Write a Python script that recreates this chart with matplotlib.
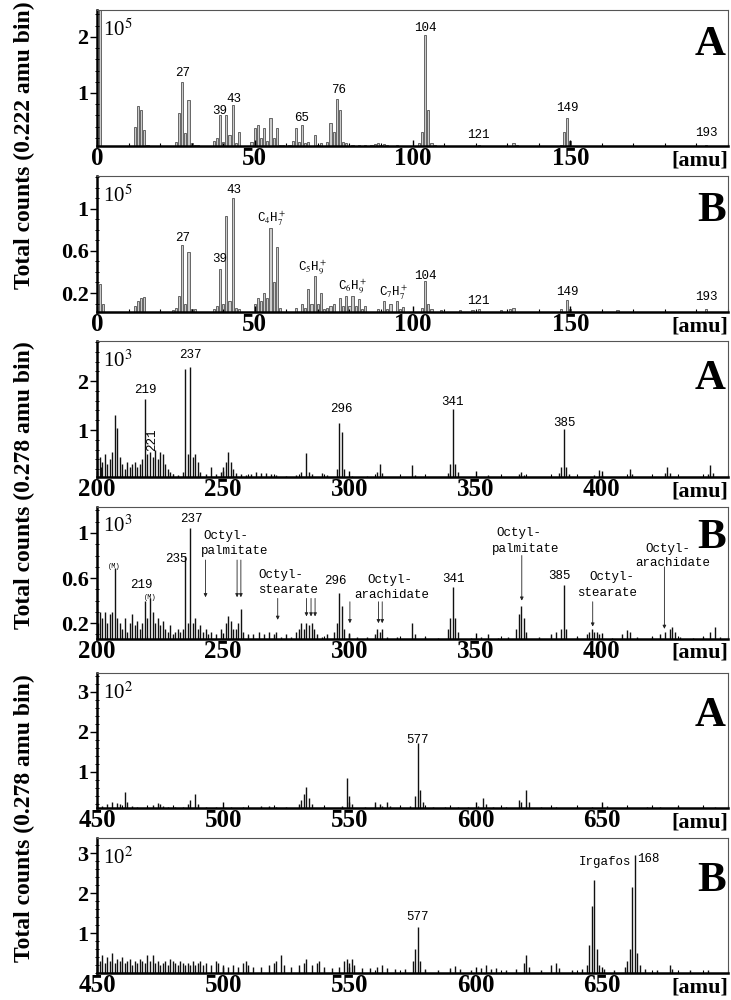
import matplotlib
matplotlib.use('Agg')
from matplotlib import pyplot as plt
from matplotlib.ticker import FixedLocator, MultipleLocator

plt.rcParams['font.family'] = ['Liberation Serif', 'DejaVu Serif']
plt.rcParams['mathtext.fontset'] = 'stix'

# ---- spectra (mass in amu, counts in units of the exponent shown in each panel) ----
# 0-200 amu, sample A (x 10^5)
low_a_mass = [1, 12, 13, 14, 15, 16, 19, 24, 25, 26, 27, 28, 29, 30, 31, 32, 36, 37, 38, 39,
              40, 41, 42, 43, 44, 45, 49, 50, 51, 52, 53, 54, 55, 56, 57, 58, 59, 61, 62, 63,
              64, 65, 66, 67, 69, 70, 71, 73, 74, 75, 76, 77, 78, 79, 81, 83, 85, 87, 88, 89,
              90, 91, 92, 95, 97, 102, 103, 104, 105, 106, 107, 115, 119, 121, 128, 132, 133,
              147, 148, 149, 150, 151, 165, 178, 193]
low_a_counts = [2.5, 0.4, 0.76, 0.7, 0.34, 0.08, 0.06, 0.06, 0.12, 0.64, 1.2, 0.28, 0.87, 0.1, 0.08, 0.07,
                0.06, 0.15, 0.2, 0.6, 0.12, 0.6, 0.25, 0.79, 0.1, 0.3, 0.12, 0.38, 0.43, 0.2, 0.37,
                0.15, 0.55, 0.2, 0.37, 0.08, 0.07, 0.08, 0.15, 0.37, 0.12, 0.43, 0.1, 0.12, 0.25,
                0.08, 0.1, 0.12, 0.46, 0.3, 0.9, 0.7, 0.12, 0.1, 0.08, 0.07, 0.07, 0.08, 0.09, 0.1,
                0.08, 0.09, 0.07, 0.07, 0.06, 0.1, 0.31, 2.04, 0.7, 0.1, 0.07, 0.06, 0.06, 0.07,
                0.06, 0.1, 0.08, 0.08, 0.3, 0.55, 0.15, 0.06, 0.06, 0.06, 0.08]

# 0-200 amu, sample B (x 10^5)
low_b_mass = [1, 2, 12, 13, 14, 15, 24, 25, 26, 27, 28, 29, 30, 31, 37, 38, 39, 40, 41, 42, 43,
              44, 45, 50, 51, 52, 53, 54, 55, 56, 57, 58, 63, 65, 66, 67, 68, 69, 70, 71, 72, 73,
              74, 75, 77, 78, 79, 80, 81, 82, 83, 84, 85, 89, 91, 92, 93, 95, 96, 97, 103, 104,
              105, 106, 109, 115, 119, 121, 128, 131, 132, 147, 149, 150, 165, 193]
low_b_counts = [0.29, 0.1, 0.08, 0.12, 0.15, 0.16, 0.04, 0.06, 0.17, 0.66, 0.1, 0.59, 0.05, 0.05,
                0.05, 0.08, 0.43, 0.1, 0.93, 0.12, 1.1, 0.06, 0.05, 0.1, 0.15, 0.12, 0.2, 0.15,
                0.82, 0.3, 0.64, 0.06, 0.06, 0.1, 0.06, 0.24, 0.1, 0.36, 0.1, 0.2, 0.05, 0.06,
                0.08, 0.1, 0.15, 0.08, 0.17, 0.08, 0.17, 0.08, 0.14, 0.05, 0.08, 0.05, 0.12, 0.05,
                0.1, 0.12, 0.05, 0.07, 0.06, 0.31, 0.1, 0.05, 0.04, 0.04, 0.04, 0.05, 0.04, 0.05,
                0.06, 0.05, 0.13, 0.05, 0.04, 0.05]

# 200-450 amu, sample A (x 10^3)
mid_a_mass = [200, 201, 201.5, 202, 203, 204, 205, 206, 207, 208, 209, 210, 211, 212, 213, 214,
              215, 216, 217, 218, 219, 220, 221, 222, 223, 224, 225, 226, 227, 228, 229, 230, 232,
              234, 235, 236, 237, 238, 239, 240, 241, 243, 245, 247, 249, 250, 251, 252, 253, 254,
              255, 257, 259, 261, 263, 265, 267, 269, 271, 275, 279, 281, 283, 284, 285, 289, 291,
              295, 296, 297, 298, 301, 307, 311, 312, 313, 325, 326, 339, 340, 341, 342, 343, 355,
              367, 368, 369, 383, 384, 385, 386, 387, 397, 399, 400, 411, 412, 425, 426, 427, 442,
              443, 444]
mid_a_counts = [0.4, 0.45, 0.25, 0.35, 0.5, 0.3, 0.4, 0.55, 1.3, 1.05, 0.45, 0.3, 0.2, 0.35, 0.25,
                0.3, 0.35, 0.25, 0.3, 0.4, 1.64, 0.5, 0.55, 0.45, 0.6, 0.4, 0.55, 0.5, 0.3, 0.2,
                0.15, 0.1, 0.08, 0.15, 2.25, 0.5, 2.28, 0.45, 0.5, 0.35, 0.15, 0.1, 0.25, 0.1, 0.15,
                0.25, 0.35, 0.55, 0.35, 0.2, 0.12, 0.1, 0.08, 0.1, 0.15, 0.12, 0.12, 0.1, 0.08,
                0.06, 0.08, 0.15, 0.53, 0.15, 0.1, 0.12, 0.08, 0.2, 1.15, 0.95, 0.2, 0.06, 0.06,
                0.15, 0.3, 0.12, 0.28, 0.08, 0.12, 0.3, 1.43, 0.3, 0.15, 0.08, 0.1, 0.15, 0.08,
                0.12, 0.25, 1.03, 0.25, 0.1, 0.08, 0.18, 0.08, 0.2, 0.1, 0.12, 0.25, 0.12, 0.1,
                0.28, 0.12]

# 200-450 amu, sample B (x 10^3)
mid_b_mass = [200, 200.5, 201, 202, 203, 204, 205, 206, 207, 208, 209, 210, 211, 212, 213, 214,
              215, 216, 217, 218, 219, 220, 221, 222, 223, 224, 225, 226, 227, 228, 229, 230, 231,
              232, 233, 234, 235, 236, 237, 238, 239, 240, 241, 242, 243, 244, 245, 247, 249, 251,
              252, 253, 254, 255, 256, 257, 258, 260, 262, 264, 266, 268, 270, 271, 273, 275, 277,
              279, 280, 281, 282, 283, 284, 285, 286, 287, 289, 291, 294, 295, 296, 297, 298, 300,
              303, 307, 310, 311, 312, 313, 315, 319, 325, 326, 330, 335, 339, 340, 341, 342, 343,
              348, 352, 355, 359, 363, 366, 367, 368, 369, 370, 375, 380, 382, 384, 385, 386, 390,
              394, 395, 396, 397, 398, 399, 404, 408, 410, 411, 414, 420, 423, 425, 427, 428, 429,
              431, 436, 440, 443, 445, 447]
mid_b_counts = [0.33, 0.2, 0.3, 0.25, 0.3, 0.2, 0.28, 0.3, 0.69, 0.25, 0.2, 0.15, 0.25, 0.12, 0.2,
                0.28, 0.18, 0.22, 0.15, 0.2, 0.4, 0.25, 0.42, 0.3, 0.2, 0.25, 0.18, 0.22, 0.15, 0.12,
                0.18, 0.1, 0.12, 0.15, 0.12, 0.15, 0.8, 0.2, 1.04, 0.2, 0.25, 0.15, 0.18, 0.12, 0.15,
                0.1, 0.12, 0.1, 0.15, 0.2, 0.26, 0.22, 0.15, 0.15, 0.2, 0.33, 0.12, 0.1, 0.1, 0.12,
                0.1, 0.12, 0.1, 0.12, 0.08, 0.1, 0.08, 0.12, 0.15, 0.2, 0.15, 0.2, 0.18, 0.2, 0.15,
                0.1, 0.08, 0.1, 0.12, 0.2, 0.47, 0.35, 0.15, 0.1, 0.08, 0.08, 0.1, 0.15, 0.12, 0.15,
                0.08, 0.08, 0.2, 0.1, 0.08, 0.07, 0.15, 0.25, 0.52, 0.25, 0.12, 0.07, 0.08, 0.1,
                0.07, 0.08, 0.15, 0.28, 0.35, 0.25, 0.12, 0.08, 0.1, 0.12, 0.15, 0.54, 0.15, 0.08,
                0.1, 0.12, 0.15, 0.12, 0.12, 0.1, 0.07, 0.1, 0.14, 0.12, 0.08, 0.08, 0.1, 0.12,
                0.15, 0.17, 0.12, 0.08, 0.07, 0.08, 0.12, 0.17, 0.08]

# 450-700 amu, sample A (x 10^2)
high_a_mass = [450, 452, 454, 456, 458, 459, 461, 462, 464, 466, 470, 472, 474, 475, 476, 478, 481,
               484, 486, 487, 489, 490, 493, 497, 503, 508, 515, 518, 521, 525, 530, 531, 532, 533,
               534, 535, 540, 547, 549, 550, 551, 556, 560, 562, 563, 565, 566, 570, 574, 576, 577,
               578, 579, 583, 588, 593, 597, 601, 603, 604, 607, 612, 617, 618, 620, 621, 626, 632,
               640, 646, 652, 660, 668, 673, 680, 690, 695]
high_a_counts = [0.12, 0.15, 0.2, 0.25, 0.22, 0.2, 0.5, 0.25, 0.15, 0.12, 0.12, 0.18, 0.22, 0.2,
                 0.15, 0.12, 0.12, 0.12, 0.2, 0.3, 0.45, 0.2, 0.12, 0.12, 0.12, 0.12, 0.15, 0.14,
                 0.12, 0.12, 0.2, 0.3, 0.45, 0.63, 0.35, 0.2, 0.12, 0.15, 0.84, 0.4, 0.2, 0.12,
                 0.25, 0.2, 0.15, 0.25, 0.15, 0.12, 0.15, 0.4, 1.72, 0.55, 0.25, 0.12, 0.12, 0.13,
                 0.12, 0.15, 0.35, 0.2, 0.13, 0.12, 0.3, 0.25, 0.55, 0.25, 0.12, 0.13, 0.12, 0.12,
                 0.15, 0.12, 0.12, 0.12, 0.15, 0.12, 0.12]

# 450-700 amu, sample B (x 10^2)
high_b_mass = [450, 451, 452, 453, 454, 455, 456, 457, 458, 459, 460, 461, 462, 463, 464, 465, 466,
               467, 468, 469, 470, 471, 472, 473, 474, 475, 476, 477, 478, 479, 480, 481, 482, 483,
               484, 485, 486, 487, 488, 489, 490, 491, 492, 493, 495, 497, 498, 500, 502, 504, 506,
               508, 509, 510, 512, 515, 518, 520, 521, 523, 524, 527, 530, 532, 533, 535, 537, 538,
               540, 543, 546, 548, 549, 550, 551, 552, 555, 558, 561, 563, 565, 568, 572, 575, 576,
               577, 578, 580, 585, 590, 592, 594, 598, 602, 604, 606, 608, 612, 616, 619, 620, 621,
               626, 630, 632, 633, 638, 642, 644, 645, 646, 647, 648, 649, 651, 655, 659, 660, 661,
               662, 663, 664, 665, 667, 672, 677, 678, 685, 692]
high_b_counts = [0.6, 0.3, 0.45, 0.25, 0.4, 0.3, 0.5, 0.25, 0.35, 0.3, 0.4, 0.25, 0.3, 0.35, 0.2,
                 0.3, 0.25, 0.35, 0.3, 0.25, 0.45, 0.3, 0.45, 0.25, 0.3, 0.2, 0.25, 0.3, 0.2, 0.35,
                 0.3, 0.25, 0.2, 0.3, 0.25, 0.2, 0.25, 0.2, 0.3, 0.2, 0.25, 0.3, 0.2, 0.25, 0.2,
                 0.3, 0.25, 0.2, 0.15, 0.2, 0.15, 0.25, 0.3, 0.2, 0.15, 0.15, 0.2, 0.25, 0.3, 0.45,
                 0.2, 0.15, 0.2, 0.25, 0.35, 0.2, 0.25, 0.3, 0.15, 0.12, 0.15, 0.3, 0.35, 0.25,
                 0.35, 0.2, 0.12, 0.12, 0.15, 0.2, 0.12, 0.1, 0.1, 0.3, 0.6, 1.16, 0.3, 0.1, 0.08,
                 0.12, 0.18, 0.1, 0.08, 0.12, 0.2, 0.1, 0.12, 0.08, 0.1, 0.25, 0.45, 0.15, 0.08,
                 0.2, 0.25, 0.12, 0.08, 0.1, 0.2, 0.7, 1.68, 2.34, 0.6, 0.2, 0.1, 0.08, 0.15, 0.3,
                 0.6, 2.15, 2.95, 0.5, 0.2, 0.1, 0.08, 0.2, 0.1, 0.08, 0.08]

# peak labels: (text, mass, height)
low_a_labels = [('27', 27, 1.35), ('39', 39, 0.67), ('43', 43.3, 0.9), ('65', 65, 0.55),
                ('76', 76.5, 1.05), ('104', 104, 2.16), ('121', 121, 0.25), ('149', 149, 0.73),
                ('193', 193, 0.28)]
low_b_labels = [('27', 27, 0.72), ('39', 39, 0.52), ('43', 43.3, 1.18), (r'C$_4$H$_7^+$', 55.5, 0.9),
                (r'C$_5$H$_9^+$', 68.5, 0.44), (r'C$_6$H$_9^+$', 81, 0.26), (r'C$_7$H$_7^+$', 94, 0.2),
                ('104', 104, 0.36), ('121', 121, 0.12), ('149', 149, 0.21), ('193', 193, 0.16)]
mid_a_labels = [('219', 219, 1.82), ('237', 236.8, 2.53), ('296', 296.7, 1.44),
                ('341', 341, 1.58), ('385', 385, 1.14)]
mid_b_labels = [('219', 217.5, 0.54), ('235', 231.5, 0.77), ('237', 237.5, 1.12),
                ('296', 294.3, 0.57), ('341', 341.2, 0.59), ('385', 383.2, 0.62)]
high_a_labels = [('577', 577, 1.8)]
high_b_labels = [('577', 577, 1.39)]

# fatty ester assignments in 200-450 B: (line1, line2, x line1, x line2, y line1, y line2)
ester_names = [('Octyl-', 'palmitate', 251, 254.5, 0.97, 0.84),
               ('Octyl-', 'stearate', 273, 275.8, 0.63, 0.49),
               ('Octyl-', 'arachidate', 316, 316.7, 0.58, 0.45),
               ('Octyl-', 'palmitate', 367, 370, 1.0, 0.86),
               ('Octyl-', 'stearate', 404, 402, 0.61, 0.47),
               ('Octyl-', 'arachidate', 426, 428.3, 0.86, 0.73)]
# arrows: (mass, tail, tip)
ester_arrows = [(243, 0.76, 0.43), (255.5, 0.76, 0.43), (257, 0.76, 0.43),
                (271.6, 0.42, 0.23), (283, 0.42, 0.26), (284.8, 0.42, 0.26), (286.4, 0.42, 0.26),
                (300.2, 0.39, 0.2), (311.5, 0.39, 0.2), (313, 0.39, 0.2),
                (368.3, 0.8, 0.4), (396.4, 0.39, 0.17), (424.8, 0.7, 0.15)]

mono = 'Liberation Mono'
fig = plt.figure(figsize=(7.31, 10), dpi=100)


def make_axes(top, bottom):
    return fig.add_axes([97 / 731, 1 - bottom / 1000, 631 / 731, (bottom - top) / 1000])


def style_axes(ax, xlim, ylim, xticks, yticks, ylabels, exponent, letter, letter_y, xminor, yminor):
    ax.set_xlim(xlim)
    ax.set_ylim(ylim)
    ax.xaxis.set_major_locator(FixedLocator(xticks))
    ax.xaxis.set_minor_locator(MultipleLocator(xminor))
    ax.set_xticklabels([str(t) for t in xticks], fontsize=18, fontweight='bold')
    ax.yaxis.set_major_locator(FixedLocator(yticks))
    ax.yaxis.set_minor_locator(MultipleLocator(yminor))
    ax.set_yticklabels(ylabels, fontsize=16, fontweight='bold')
    ax.tick_params(axis='x', which='major', direction='in', length=4, width=1, pad=1)
    ax.tick_params(axis='x', which='minor', direction='in', length=2, width=0.8)
    ax.tick_params(axis='y', which='major', direction='out', length=5, width=1, pad=1)
    ax.tick_params(axis='y', which='minor', direction='inout', length=3, width=0.7)
    for side in ['left', 'bottom']:
        ax.spines[side].set_linewidth(1.8)
    for side in ['top', 'right']:
        ax.spines[side].set_linewidth(0.8)
        ax.spines[side].set_color('#555555')
    ax.text(0.0095, 0.81, r'10$^{%d}$' % exponent, transform=ax.transAxes, fontsize=15,
            ha='left', va='baseline')
    ax.text(0.997, letter_y, letter, transform=ax.transAxes, fontsize=31, fontweight='bold',
            ha='right', va='baseline')
    ax.text(1.0, -0.03, '[amu]', transform=ax.transAxes, fontsize=16, fontweight='bold',
            ha='right', va='top')


def draw_bars(ax, mass, counts, base):
    ax.bar(mass, [c - base for c in counts], width=0.7, bottom=base,
           color='#cccccc', edgecolor='#666666', linewidth=0.7)


def draw_lines(ax, mass, counts, base):
    ax.vlines(mass, base, counts, colors='#111111', linewidth=1.0)


def draw_labels(ax, labels, size=9):
    for text, m, h in labels:
        ax.text(m, h, text, fontsize=size, family=mono, ha='center', va='center')


# panel 1: 0-200 amu, A
ax1 = make_axes(10, 146)
style_axes(ax1, (0, 200), (0.054, 2.48), [0, 50, 100, 150], [1, 2], ['1', '2'], 5, 'A', 0.67, 10, 0.2)
draw_bars(ax1, low_a_mass, low_a_counts, 0.054)
draw_labels(ax1, low_a_labels)

# panel 2: 0-200 amu, B
ax2 = make_axes(176, 312)
style_axes(ax2, (0, 200), (0.02, 1.31), [0, 50, 100, 150], [0.2, 0.6, 1], ['0.2', '0.6', '1'],
           5, 'B', 0.67, 10, 0.1)
draw_bars(ax2, low_b_mass, low_b_counts, 0.02)
draw_labels(ax2, low_b_labels)

# panel 3: 200-450 amu, A
ax3 = make_axes(341, 477)
style_axes(ax3, (200, 450), (0.04, 2.82), [200, 250, 300, 350, 400], [1, 2], ['1', '2'], 3, 'A',
           0.65, 10, 0.2)
draw_lines(ax3, mid_a_mass, mid_a_counts, 0.04)
draw_labels(ax3, mid_a_labels)
ax3.text(221.7, 0.8, '221', fontsize=9, family=mono, ha='center', va='center', rotation=90)

# panel 4: 200-450 amu, B
ax4 = make_axes(507, 639)
style_axes(ax4, (200, 450), (0.06, 1.23), [200, 250, 300, 350, 400], [0.2, 0.6, 1],
           ['0.2', '0.6', '1'], 3, 'B', 0.69, 10, 0.1)
draw_lines(ax4, mid_b_mass, mid_b_counts, 0.06)
draw_labels(ax4, mid_b_labels)
for m, h in [(207, 0.7), (221, 0.43)]:
    ax4.text(m, h, '(M)', fontsize=5, family=mono, ha='center', va='center')
for line1, line2, m1, m2, y1, y2 in ester_names:
    ax4.text(m1, y1, line1, fontsize=9, family=mono, ha='center', va='center')
    ax4.text(m2, y2, line2, fontsize=9, family=mono, ha='center', va='center')
for m, tail, tip in ester_arrows:
    ax4.annotate('', xy=(m, tip), xytext=(m, tail),
                 arrowprops=dict(arrowstyle='-|>', lw=0.6, color='#222222',
                                 mutation_scale=5, shrinkA=0, shrinkB=0))

# panel 5: 450-700 amu, A
ax5 = make_axes(673, 808)
style_axes(ax5, (450, 700), (0.1, 3.47), [450, 500, 550, 600, 650], [1, 2, 3], ['1', '2', '3'],
           2, 'A', 0.61, 10, 0.2)
draw_lines(ax5, high_a_mass, high_a_counts, 0.1)
draw_labels(ax5, high_a_labels)

# panel 6: 450-700 amu, B
ax6 = make_axes(838, 973)
style_axes(ax6, (450, 700), (0.0, 3.38), [450, 500, 550, 600, 650], [1, 2, 3], ['1', '2', '3'],
           2, 'B', 0.61, 10, 0.2)
draw_lines(ax6, high_b_mass, high_b_counts, 0.0)
draw_labels(ax6, high_b_labels)
ax6.text(661.5, 2.78, 'Irgafos', fontsize=9, family=mono, ha='right', va='center')
ax6.text(663.8, 2.85, '168', fontsize=9, family=mono, ha='left', va='center')

# shared y-axis titles
for ytext, label in [(0.855, 'Total counts (0.222 amu bin)'),
                     (0.515, 'Total counts (0.278 amu bin)'),
                     (0.182, 'Total counts (0.278 amu bin)')]:
    fig.text(0.034, ytext, label, rotation=90, fontsize=17, fontweight='bold',
             ha='center', va='center')

fig.savefig('out.png', dpi=100)
